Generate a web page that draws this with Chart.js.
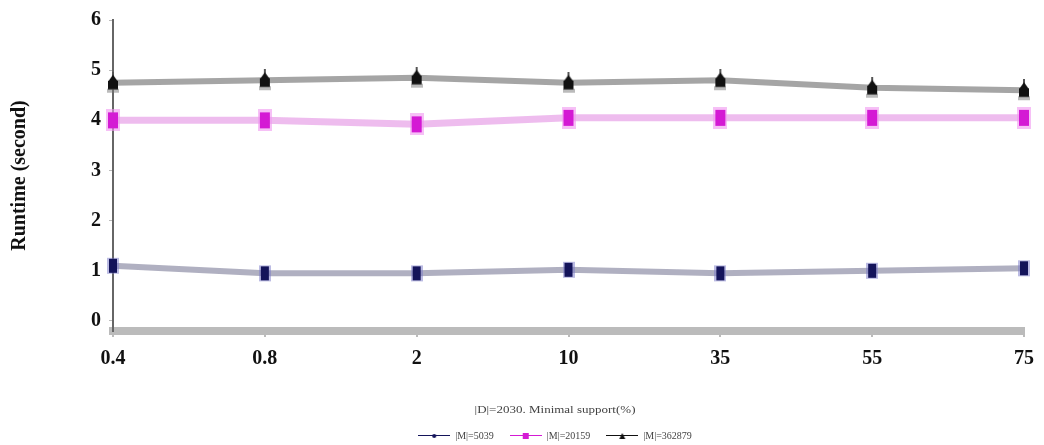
<!DOCTYPE html>
<html>
<head>
<meta charset="utf-8">
<script src="https://cdn.jsdelivr.net/npm/chart.js@4/dist/chart.umd.min.js"></script>
<style>
html,body{margin:0;padding:0;background:#fff;}
#wrap{width:1044px;height:445px;position:relative;}
</style>
</head>
<body>
<div id="wrap"><canvas id="c" width="1044" height="445"></canvas></div>
<script>
const categories = ['0.4','0.8','2','10','35','55','75'];
const seriesNames = ['|M|=5039','|M|=20159','|M|=362879'];
const m5039 = [1.1, 0.95, 0.95, 1.02, 0.95, 1.0, 1.05];
const m20159 = [4.0, 4.0, 3.92, 4.05, 4.05, 4.05, 4.05];
const m362879 = [4.75, 4.8, 4.85, 4.75, 4.8, 4.65, 4.6];
const yTicks = [0,1,2,3,4,5,6];
const xTitle = '|D|=2030. Minimal support(%)';

function mk(w,h,draw){const c=document.createElement('canvas');c.width=w;c.height=h;draw(c.getContext('2d'),w,h);return c;}
const ptBlue = mk(12,18,(g)=>{g.fillStyle='rgba(120,120,200,0.5)';g.fillRect(0,1,12,16);g.fillStyle='#14145a';g.fillRect(2,2,8,14);});
const ptPink = mk(14,22,(g)=>{g.fillStyle='rgba(240,150,240,0.6)';g.fillRect(0,0,14,22);g.fillStyle='#d41ad4';g.fillRect(2,3,10,16);});
const ptBlack = mk(12,22,(g)=>{g.fillStyle='#555';g.fillRect(5,0,2,6);g.fillStyle='#111';g.beginPath();g.moveTo(6,3);g.lineTo(11,10);g.lineTo(1,10);g.closePath();g.fill();g.fillRect(1,9,10,9);g.fillStyle='rgba(120,120,120,0.5)';g.fillRect(0,17,12,4);});
const lgBlue = mk(32,6,(g)=>{g.fillStyle='#14145a';g.fillRect(0,2,32,1);g.beginPath();g.arc(16,3,2,0,7);g.fill();});
const lgPink = mk(32,6,(g)=>{g.fillStyle='#d41ad4';g.fillRect(0,2,32,1);g.fillRect(13,0,6,6);});
const lgBlack = mk(32,6,(g)=>{g.fillStyle='#111';g.fillRect(0,2,32,1);g.beginPath();g.moveTo(16,0);g.lineTo(19,6);g.lineTo(13,6);g.closePath();g.fill();});
const lgStyles=[lgBlue,lgPink,lgBlack];

const serif = "'Liberation Serif','DejaVu Serif',serif";

const shiftPlugin = {
  id:'shiftLegend',
  afterLayout(chart){
    const lg = chart.legend;
    if(lg){ lg.left += 43; lg.right += 43; lg.top += 6; lg.bottom += 6; }
  },
  afterDraw(chart){
    const g = chart.ctx;
    g.save();
    g.font = "10px " + serif;
    g.fillStyle = '#444';
    g.textAlign = 'center';
    g.textBaseline = 'middle';
    g.translate(555, 410);
    g.scale(1.3, 1);
    g.fillText(xTitle, 0, 0);
    g.restore();
  }
};

new Chart(document.getElementById('c'), {
  type:'line',
  data:{
    labels:categories,
    datasets:[
      {label:seriesNames[0],data:m5039,borderColor:'rgba(150,150,172,0.75)',borderWidth:6,pointStyle:ptBlue,pointRadius:8,tension:0},
      {label:seriesNames[1],data:m20159,borderColor:'rgba(232,165,232,0.75)',borderWidth:7,pointStyle:ptPink,pointRadius:8,tension:0},
      {label:seriesNames[2],data:m362879,borderColor:'rgba(135,135,135,0.75)',borderWidth:6,pointStyle:ptBlack,pointRadius:8,tension:0}
    ]
  },
  plugins:[shiftPlugin],
  options:{
    responsive:false,
    animation:false,
    layout:{padding:{top:18,right:20,left:0,bottom:0}},
    plugins:{
      tooltip:{enabled:false},
      legend:{
        position:'bottom',
        labels:{
          usePointStyle:true,
          pointStyleWidth:32,
          boxHeight:6,
          padding:16,
          color:'#444',
          font:{family:serif,size:10},
          generateLabels:(chart)=>chart.data.datasets.map((d,i)=>({text:d.label,pointStyle:lgStyles[i],fillStyle:'#000',strokeStyle:'#000',lineWidth:0,hidden:false,datasetIndex:i,fontColor:'#444'}))
        }
      }
    },
    scales:{
      x:{
        type:'category',
        offset:false,
        grid:{display:true,drawOnChartArea:false,tickLength:6,color:'#bbb',lineWidth:2},
        border:{display:true,color:'#bbb',width:8},
        ticks:{color:'#111',padding:10,font:{family:serif,size:20,weight:'bold'}},
        afterFit:(s)=>{s.height=78;}
      },
      y:{
        min:-0.2,max:6,
        afterBuildTicks:(s)=>{s.ticks=yTicks.map(v=>({value:v}));},
        grid:{display:true,drawOnChartArea:false,tickLength:4,color:'#bbb'},
        border:{display:true,color:'#666',width:2},
        ticks:{color:'#111',padding:8,font:{family:serif,size:20,weight:'bold'}},
        title:{display:true,text:'Runtime (second)',color:'#111',font:{family:serif,size:20,weight:'bold'},padding:{top:8,bottom:24}},
        afterFit:(s)=>{s.width=113;}
      }
    }
  }
});
</script>
</body>
</html>
